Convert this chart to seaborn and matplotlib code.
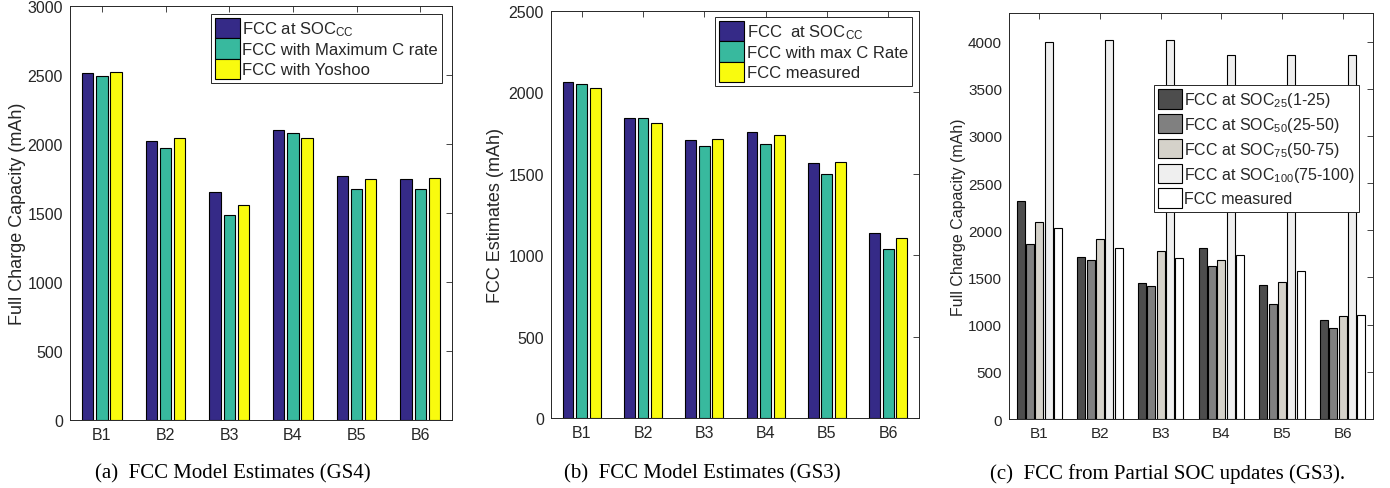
import matplotlib
matplotlib.use("Agg")
import numpy as np
import pandas as pd
import seaborn as sns
import matplotlib.pyplot as plt
from matplotlib.patches import Patch

# Battery cells on the x axis
batteries = ["B1", "B2", "B3", "B4", "B5", "B6"]

# (a) FCC model estimates, GS4 (mAh)
gs4_soc_cc = [2513, 2023, 1651, 2105, 1769, 1750]
gs4_max_c = [2493, 1972, 1482, 2078, 1675, 1675]
gs4_yoshoo = [2520, 2044, 1557, 2047, 1748, 1752]

# (b) FCC model estimates, GS3 (mAh)
gs3_soc_cc = [2060, 1841, 1704, 1757, 1565, 1133]
gs3_max_c = [2052, 1841, 1667, 1680, 1495, 1039]
gs3_measured = [2027, 1811, 1710, 1737, 1571, 1107]

# (c) FCC from partial SOC windows, GS3 (mAh)
soc25 = [2313, 1715, 1446, 1814, 1425, 1054]
soc50 = [1853, 1687, 1408, 1623, 1217, 962]
soc75 = [2083, 1906, 1782, 1687, 1450, 1090]
soc100 = [3995, 4021, 4021, 3855, 3855, 3855]

labels_a = [r"FCC at SOC$_{\mathrm{CC}}$", "FCC with Maximum C rate", "FCC with Yoshoo"]
labels_b = [r"FCC  at SOC$_{\mathrm{CC}}$", "FCC with max C Rate", "FCC measured"]
labels_c = [r"FCC at SOC$_{25}$(1-25)", r"FCC at SOC$_{50}$(25-50)",
            r"FCC at SOC$_{75}$(50-75)", r"FCC at SOC$_{100}$(75-100)", "FCC measured"]

parula3 = ["#352a87", "#38b99e", "#f9fb0e"]
grays5 = ["#4d4d4d", "#808080", "#d5d2ca", "#efefef", "#ffffff"]

sns.set_theme(style="white")
INK = "#262626"
plt.rcParams.update({
    "font.family": ["Liberation Sans", "DejaVu Sans"],
    "mathtext.fontset": "custom",
    "mathtext.rm": "Liberation Sans",
    "mathtext.it": "Liberation Sans:italic",
    "mathtext.bf": "Liberation Sans:bold",
    "xtick.direction": "in",
    "ytick.direction": "in",
    "xtick.top": True,
    "ytick.right": True,
    "axes.edgecolor": INK,
    "axes.linewidth": 0.7,
    "text.color": INK,
    "axes.labelcolor": INK,
    "xtick.color": INK,
    "ytick.color": INK,
})

fig = plt.figure(figsize=(13.9, 4.89), dpi=100)
ax_a = fig.add_axes([0.0504, 0.139, 0.2748, 0.8467])
ax_b = fig.add_axes([0.3964, 0.1431, 0.2647, 0.8330])
ax_c = fig.add_axes([0.7259, 0.1411, 0.2619, 0.8297])


def grouped_bars(ax, series, labels, colors, width, gap):
    df = pd.DataFrame({
        "battery": np.tile(batteries, len(series)),
        "series": np.repeat(labels, len(batteries)),
        "value": np.concatenate([np.asarray(s, dtype=float) for s in series]),
    })
    sns.barplot(data=df, x="battery", y="value", hue="series", hue_order=labels,
                palette=colors, saturation=1, width=width, gap=gap,
                edgecolor="black", linewidth=0.8, errorbar=None,
                legend=False, ax=ax)


def style_axes(ax, ytop, ylabel, tick_size, label_size, label_x):
    ax.set_xlim(-0.5, 5.5)
    ax.set_ylim(0, ytop)
    ax.set_yticks(np.arange(0, ytop + 1, 500))
    ax.set_xlabel("")
    ax.set_ylabel(ylabel, fontsize=label_size)
    ax.yaxis.set_label_coords(label_x, 0.5)
    ax.tick_params(axis="both", which="both", direction="in", length=4,
                   width=0.6, labelsize=tick_size, top=True, right=True, pad=5)
    for sp in ax.spines.values():
        sp.set_visible(True)
        sp.set_color(INK)
        sp.set_linewidth(0.7)


def add_legend(ax, labels, colors, anchor, size, hh, spacing):
    handles = [Patch(facecolor=c, edgecolor="black", linewidth=0.8) for c in colors]
    leg = ax.legend(handles, labels, loc="upper right", bbox_to_anchor=anchor,
                    borderaxespad=0, fontsize=size, handlelength=hh,
                    handleheight=hh, handletextpad=0.15, labelspacing=spacing,
                    borderpad=0.25, fancybox=False, framealpha=1,
                    edgecolor=INK)
    leg.get_frame().set_linewidth(0.7)


grouped_bars(ax_a, [gs4_soc_cc, gs4_max_c, gs4_yoshoo], labels_a, parula3, 0.667, 0.2)
style_axes(ax_a, 3000, "Full Charge Capacity (mAh)", 11.5, 13, -0.115)
add_legend(ax_a, labels_a, parula3, (0.974, 0.981), 12, 1.5, 0.0)

grouped_bars(ax_b, [gs3_soc_cc, gs3_max_c, gs3_measured], labels_b, parula3, 0.667, 0.2)
style_axes(ax_b, 2500, "FCC Estimates (mAh)", 11.5, 13, -0.128)
add_legend(ax_b, labels_b, parula3, (0.981, 0.985), 12, 1.5, 0.0)

grouped_bars(ax_c, [soc25, soc50, soc75, soc100, gs3_measured], labels_c, grays5, 0.77, 0.15)
style_axes(ax_c, 4300, "Full Charge Capacity (mAh)", 11, 11.5, -0.118)
ax_c.set_yticks(np.arange(0, 4001, 500))
add_legend(ax_c, labels_c, grays5, (0.9615, 0.823), 11.5, 1.5, 0.3)

cap = dict(family=["Liberation Serif", "DejaVu Serif"], fontsize=15, color="black",
           ha="center", va="center")
fig.text(0.1676, 0.031, "(a)  FCC Model Estimates (GS4)", **cap)
fig.text(0.505, 0.031, "(b)  FCC Model Estimates (GS3)", **cap)
fig.text(0.840, 0.031, "(c)  FCC from Partial SOC updates (GS3).", **cap)

fig.savefig("out.png", dpi=100)
